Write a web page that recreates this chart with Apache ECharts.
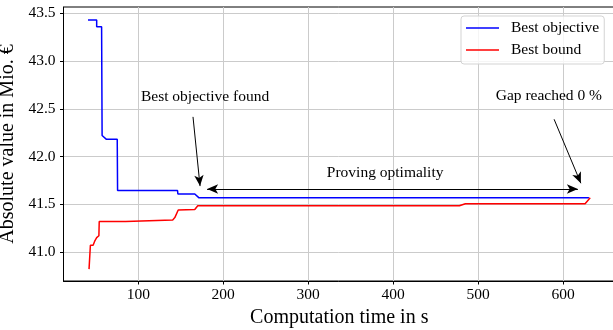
<!DOCTYPE html>
<html>
<head>
<meta charset="utf-8">
<script src="https://cdn.jsdelivr.net/npm/echarts@6/dist/echarts.min.js"></script>
<style>
  html, body { margin: 0; padding: 0; background: #fff; }
  #chart { width: 613px; height: 330px; }
</style>
</head>
<body>
<div id="chart"></div>
<script>
// Best objective (time in s, value in Mio. €)
var objTime  = [40.8, 51, 51, 56.8, 57.4, 59.6, 62.5, 75.2, 75.6, 146.2, 146.6, 166.5, 171.5, 630.5];
var objValue = [43.43, 43.43, 43.36, 43.36, 42.22, 42.21, 42.18, 42.18, 41.643, 41.643, 41.607, 41.607, 41.567, 41.567];
// Best bound
var bndTime  = [42, 43.6, 46.8, 49, 51, 53.6, 54, 85, 86.5, 140.5, 143, 147, 166.5, 170, 478, 485, 626, 632];
var bndValue = [40.82, 41.07, 41.07, 41.12, 41.15, 41.17, 41.318, 41.32, 41.336, 41.336, 41.36, 41.44, 41.445, 41.484, 41.484, 41.505, 41.505, 41.567];

var xTicks = [100, 200, 300, 400, 500, 600];
var yTicks = [41.0, 41.5, 42.0, 42.5, 43.0, 43.5];

var font = 'Liberation Serif';

function pairs(t, v) {
    var out = [];
    for (var i = 0; i < t.length; i++) {
        out.push([t[i], v[i]]);
    }
    return out;
}

var chart = echarts.init(document.getElementById('chart'));

var annoLine = { color: '#000', width: 1, type: 'solid' };

chart.setOption({
    animation: false,
    textStyle: { fontFamily: font, color: '#000' },
    grid: {
        left: 63.5, right: -2, top: 7, bottom: 49,
        containLabel: false, outerBoundsMode: 'none',
        show: true, borderColor: '#000', borderWidth: 1
    },
    legend: {
        data: ['Best objective', 'Best bound'],
        icon: 'rect',
        orient: 'vertical',
        left: 461, top: 16,
        itemWidth: 33, itemHeight: 1.5, itemGap: 6,
        padding: [4, 5, 6, 5],
        borderColor: '#d3d3d3', borderWidth: 1, borderRadius: 3,
        backgroundColor: 'rgba(255,255,255,0.8)',
        textStyle: { fontFamily: font, fontSize: 15.5, color: '#000', padding: [0, 0, 0, 7] }
    },
    xAxis: {
        type: 'value',
        min: 11.94, max: 661.2,
        name: 'Computation time in s',
        nameLocation: 'middle', nameGap: 23,
        nameTextStyle: { fontFamily: font, fontSize: 20, color: '#000' },
        axisLine: { show: true, lineStyle: { color: '#000', width: 1 } },
        axisTick: { show: true, inside: false, length: 3.5, customValues: xTicks, lineStyle: { color: '#000' } },
        axisLabel: { customValues: xTicks, margin: 6, fontFamily: font, fontSize: 15.5, color: '#000' },
        splitLine: { show: true, lineStyle: { color: '#cbcbcb', width: 1 } }
    },
    yAxis: {
        type: 'value',
        min: 40.696, max: 43.566,
        name: 'Absolute value in Mio. €',
        nameLocation: 'middle', nameGap: 38,
        nameTextStyle: { fontFamily: font, fontSize: 20, color: '#000' },
        axisLine: { show: true, lineStyle: { color: '#000', width: 1 } },
        axisTick: { show: true, inside: false, length: 3.5, customValues: yTicks, lineStyle: { color: '#000' } },
        axisLabel: {
            customValues: yTicks, margin: 8, fontFamily: font, fontSize: 15.5, color: '#000',
            formatter: function (v) { return v.toFixed(1); }
        },
        splitLine: { show: true, lineStyle: { color: '#cbcbcb', width: 1 } }
    },
    series: [
        {
            name: 'Best objective',
            type: 'line',
            symbol: 'none',
            data: pairs(objTime, objValue),
            lineStyle: { color: '#0000ff', width: 1.5 },
            itemStyle: { color: '#0000ff' },
            markLine: {
                silent: true,
                symbolSize: [7, 11],
                label: { show: false },
                lineStyle: annoLine,
                data: [
                    [{ coord: [164.4, 42.415], symbol: 'none' }, { coord: [172.7, 41.69], symbol: 'arrow' }],
                    [{ coord: [589.5, 42.39], symbol: 'none' }, { coord: [621, 41.72], symbol: 'arrow' }],
                    [{ coord: [181, 41.66], symbol: 'arrow' }, { coord: [617.5, 41.66], symbol: 'arrow' }]
                ]
            },
            markPoint: {
                silent: true,
                symbol: 'circle',
                symbolSize: 1,
                itemStyle: { color: 'rgba(0,0,0,0)' },
                label: { show: true, position: 'inside', fontFamily: font, fontSize: 15.5, color: '#000' },
                data: [
                    { coord: [178.6, 42.62], value: 'Best objective found', label: { formatter: 'Best objective found' } },
                    { coord: [583.3, 42.63], value: 'Gap reached 0 %', label: { formatter: 'Gap reached 0 %' } },
                    { coord: [390.6, 41.825], value: 'Proving optimality', label: { formatter: 'Proving optimality' } }
                ]
            }
        },
        {
            name: 'Best bound',
            type: 'line',
            symbol: 'none',
            data: pairs(bndTime, bndValue),
            lineStyle: { color: '#ff0000', width: 1.5 },
            itemStyle: { color: '#ff0000' }
        }
    ]
});
</script>
</body>
</html>
